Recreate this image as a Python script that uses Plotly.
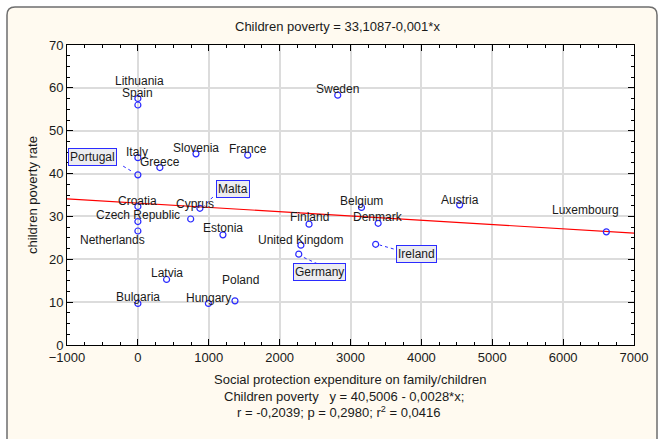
import plotly.graph_objects as go

# Country data: family/children social protection expenditure vs. child poverty rate
countries = ["Lithuania", "Spain", "Sweden", "Portugal", "Italy", "Greece", "Slovenia",
             "France", "Malta", "Croatia", "Cyprus", "Czech Republic", "Netherlands",
             "Estonia", "Belgium", "Austria", "Luxembourg", "Finland", "Denmark",
             "United Kingdom", "Germany", "Ireland", "Latvia", "Poland", "Bulgaria", "Hungary"]
expenditure = [0, 0, 2820, 0, 0, 310, 820, 1550, 875, 0, 745, 0, 0,
               1200, 3155, 4540, 6610, 2415, 3390, 2300, 2270, 3355, 405, 1370, 0, 995]
poverty = [57.5, 56.0, 58.3, 39.7, 43.7, 41.4, 44.6, 44.3, 31.9, 32.3, 29.4, 28.8, 26.6,
           25.7, 32.1, 32.7, 26.4, 28.2, 28.4, 23.3, 21.2, 23.5, 15.3, 10.3, 9.7, 9.7]

# Fitted line shown in the title
fit_intercept = 33.1087
fit_slope = -0.001
x_range = [-1000, 7000]
y_range = [0, 70]

# Figure geometry (pixels)
W, H = 662, 439
ML, MR, MT, MB = 67, 28, 45, 94
PW, PH = W - ML - MR, H - MT - MB

# Label placement: (dx, dy) pixel shift of the label centre from its point (dy up)
label_shift = {
    "Lithuania": (2, 18), "Spain": (0, 12), "Sweden": (0, 6.5), "Italy": (-1, 6),
    "Greece": (0, 6), "Slovenia": (0, 6), "France": (0, 6), "Croatia": (0, 6),
    "Cyprus": (4, 15), "Czech Republic": (0, 6.5), "Netherlands": (-25, -9),
    "Estonia": (0, 6.5), "Belgium": (0, 6), "Austria": (0, 5), "Luxembourg": (-21, 22),
    "Finland": (0, 6.7), "Denmark": (0, 6), "United Kingdom": (0, 5), "Latvia": (0, 6.5),
    "Poland": (6, 20.7), "Bulgaria": (0, 6), "Hungary": (0, 5),
}
# Boxed labels with a dashed leader: box shift and leader segment (pixels from point)
boxed = {
    "Portugal": ((-45.7, 18), (-14.7, 8.7, -4.7, 2.7)),
    "Malta": ((33.5, 19.3), (13, 11.3, 4, 2.3)),
    "Germany": ((21, -17.4), (18.7, -9.7, 3.7, -2.7)),
    "Ireland": ((41, -10), (18, -4.7, 4, -0.7)),
}

NARROW = "Liberation Sans Narrow, Arial Narrow, Liberation Sans, Arial, sans-serif"
REGULAR = "Liberation Sans, Arial, sans-serif"
TXT = "#1a1a1a"
BLUE = "#2b2bff"


def px_to_paper_x(px):
    return (px - ML) / PW


def px_to_paper_y(py):
    return (H - MB - py) / PH


fig = go.Figure()

fig.add_trace(go.Scatter(
    x=x_range,
    y=[fit_intercept + fit_slope * v for v in x_range],
    mode="lines", line=dict(color="#ff0000", width=1.2),
    hoverinfo="skip", showlegend=False,
))
fig.add_trace(go.Scatter(
    x=expenditure, y=poverty, mode="markers", text=countries,
    marker=dict(symbol="circle-open", size=6, color=BLUE, line=dict(width=1.2)),
    showlegend=False,
))

annotations = []
shapes = []

# Rounded outer frame with cream fill, and white plot area on top of it
x0, y0, x1, y1, r = 7, 7, 657, 449, 8
fx = px_to_paper_x
fy = px_to_paper_y
path = (f"M {fx(x0 + r)},{fy(y0)} L {fx(x1 - r)},{fy(y0)} Q {fx(x1)},{fy(y0)} {fx(x1)},{fy(y0 + r)} "
        f"L {fx(x1)},{fy(y1 - r)} Q {fx(x1)},{fy(y1)} {fx(x1 - r)},{fy(y1)} "
        f"L {fx(x0 + r)},{fy(y1)} Q {fx(x0)},{fy(y1)} {fx(x0)},{fy(y1 - r)} "
        f"L {fx(x0)},{fy(y0 + r)} Q {fx(x0)},{fy(y0)} {fx(x0 + r)},{fy(y0)} Z")
shapes.append(dict(type="path", xref="paper", yref="paper", path=path,
                   fillcolor="#fffaf0", line=dict(color="#6e6e6e", width=1.5), layer="below"))
shapes.append(dict(type="rect", xref="paper", yref="paper", x0=0, y0=0, x1=1, y1=1,
                   fillcolor="#ffffff", line=dict(width=0), layer="below"))

for name, xv, yv in zip(countries, expenditure, poverty):
    if name in label_shift:
        dx, dy = label_shift[name]
        annotations.append(dict(
            x=xv, y=yv, xref="x", yref="y", text=name, showarrow=False,
            xshift=dx, yshift=dy, xanchor="center", yanchor="middle",
            font=dict(family=REGULAR, size=12, color=TXT),
        ))
    elif name in boxed:
        (bx, by), (lx0, ly0, lx1, ly1) = boxed[name]
        annotations.append(dict(
            x=xv, y=yv, xref="x", yref="y", text=name, showarrow=False,
            xshift=bx, yshift=by, xanchor="center", yanchor="middle",
            font=dict(family=REGULAR, size=12, color=TXT),
            bgcolor="#ececf0", bordercolor=BLUE, borderwidth=1, borderpad=1,
        ))
        shapes.append(dict(
            type="line", xref="x", yref="y", xsizemode="pixel", ysizemode="pixel",
            xanchor=xv, yanchor=yv, x0=lx0, y0=ly0, x1=lx1, y1=ly1,
            line=dict(color=BLUE, width=1, dash="dot"),
        ))

# Title and x-axis caption lines
annotations.append(dict(x=px_to_paper_x(337), y=px_to_paper_y(27), xref="paper", yref="paper",
                        text="Children poverty = 33,1087-0,001*x", showarrow=False,
                        xanchor="center", yanchor="middle",
                        font=dict(family=NARROW, size=13, color=TXT)))
caption = [
    ("Social protection expenditure on family/children", 350, 379),
    ("Children poverty   y = 40,5006 - 0,0028*x;", 344, 396),
    ("r = -0,2039; p = 0,2980; r<sup>2</sup> = 0,0416", 338, 412),
]
for text, cx, cy in caption:
    annotations.append(dict(x=px_to_paper_x(cx), y=px_to_paper_y(cy), xref="paper", yref="paper",
                            text=text, showarrow=False, xanchor="center", yanchor="middle",
                            font=dict(family=NARROW, size=13, color=TXT)))

axis_common = dict(
    showline=True, linecolor="#000000", linewidth=1, mirror="allticks",
    ticks="inside", ticklen=6, tickcolor="#000000", tickwidth=1,
    showgrid=True, gridcolor="#dcdcdc", gridwidth=1.5, zeroline=False,
    tickfont=dict(family=NARROW, size=13, color=TXT),
)

fig.update_layout(
    width=W, height=H,
    margin=dict(l=ML, r=MR, t=MT, b=MB),
    paper_bgcolor="#ffffff", plot_bgcolor="rgba(0,0,0,0)",
    xaxis=dict(range=x_range, dtick=1000, tick0=0,
               minor=dict(ticks="inside", dtick=250, ticklen=3, tickcolor="#000000", showgrid=False),
               **axis_common),
    yaxis=dict(range=y_range, dtick=10, tick0=0,
               minor=dict(ticks="inside", dtick=2.5, ticklen=3, tickcolor="#000000", showgrid=False),
               title=dict(text="children poverty rate", standoff=8,
                          font=dict(family=NARROW, size=13, color=TXT)),
               **axis_common),
    annotations=annotations,
    shapes=shapes,
    showlegend=False,
)

fig.write_html("out.html")
